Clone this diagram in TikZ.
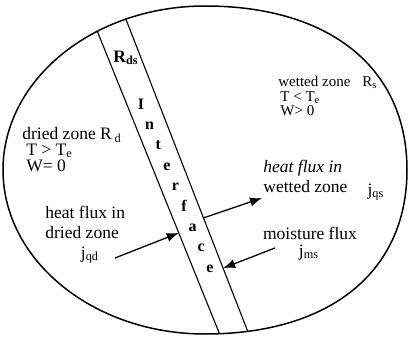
\documentclass[tikz,border=0pt]{standalone}
\usepackage{fontspec}
\setmainfont{Liberation Serif}
\usetikzlibrary{arrows.meta, calc}
\tikzset{
  zonetxt/.style={align=left, inner sep=0pt, font=\fontsize{8.75}{8}\selectfont},
  fluxtxt/.style={align=left, inner sep=0pt, font=\fontsize{8.75}{10}\selectfont},
  bandltr/.style={inner sep=0pt, anchor=base, font=\fontsize{8}{9}\selectfont\bfseries},
  rim/.style={line width=0.75pt},
  bandline/.style={line width=0.55pt},
  flux/.style={-{Latex[length=6pt, width=4.5pt]}, line width=0.65pt}
}
% outline of the sample, a little fuller on the right
\def\rimpath{(205,6) .. controls (330.2,6) and (407,68.3) .. (407,170)
  .. controls (407,271.7) and (330.2,334) .. (205,334)
  .. controls (93.5,334) and (3,260.5) .. (3,170)
  .. controls (3,79.5) and (93.5,6) .. (205,6) -- cycle}

\begin{document}
\begin{tikzpicture}[x=0.5pt, y=-0.5pt]
\useasboundingbox (0,0) rectangle (408,337);
% interface band
\coordinate (dtop) at (98,33); \coordinate (dbot) at (220,335);
\coordinate (wtop) at (127,22); \coordinate (wbot) at (248,332);
\begin{scope}
  \clip \rimpath;
  \draw[bandline] ($(dtop)!-0.05!(dbot)$) -- ($(dtop)!1.05!(dbot)$);
  \draw[bandline] ($(wtop)!-0.05!(wbot)$) -- ($(wtop)!1.05!(wbot)$);
\end{scope}
\draw[rim] \rimpath;
\node[font=\fontsize{8.75}{10}\selectfont\bfseries, inner sep=0pt] (rds) at (126,58) {R\textsubscript{ds}};
\foreach \l [count=\i from 0] in {I,n,t,e,r,f,a,c,e}
  \node[bandltr] (ltr\i) at ({141+8.6*\i},{109+20.4*\i}) {\l};
% zones
\node[zonetxt, anchor=west] (dried) at (22,150) {dried zone R\,\textsubscript{d}\\\hspace*{2pt}T > T\textsubscript{e}\\\hspace*{2pt}W= 0};
\node[zonetxt, font=\fontsize{7.5}{7.25}\selectfont, anchor=west] (wetted) at (278,96) {wetted zone\hspace{0.8em}R\textsubscript{s}\\\hspace*{1pt}T < T\textsubscript{e}\\\hspace*{1pt}W> 0};
% fluxes
\node[fluxtxt, anchor=west] (hfd) at (45,222) {heat flux in\\dried zone};
\node[fluxtxt] (jqd) at (90,255) {j\textsubscript{qd}};
\node[fluxtxt, anchor=west] (hfs) at (263,176) {\textit{heat flux in}\\wetted zone};
\node[fluxtxt] (jqs) at (376,192) {j\textsubscript{qs}};
\node[fluxtxt] (mf) at (310,233) {moisture flux};
\node[fluxtxt] (jms) at (309,253) {j\textsubscript{ms}};
\coordinate (qdtail) at (115,258); \coordinate (qdhead) at ($(dtop)!0.662!(dbot)$);
\coordinate (qsfoot) at ($(wtop)!0.632!(wbot)$); \coordinate (qshead) at (262,198);
\coordinate (mstail) at (275,248); \coordinate (mshead) at ($(wtop)!0.794!(wbot)$);
\draw[flux] (qdtail) -- (qdhead);
\draw[flux] (qsfoot) -- (qshead);
\draw[flux] (mstail) -- (mshead);
\end{tikzpicture}
\end{document}
